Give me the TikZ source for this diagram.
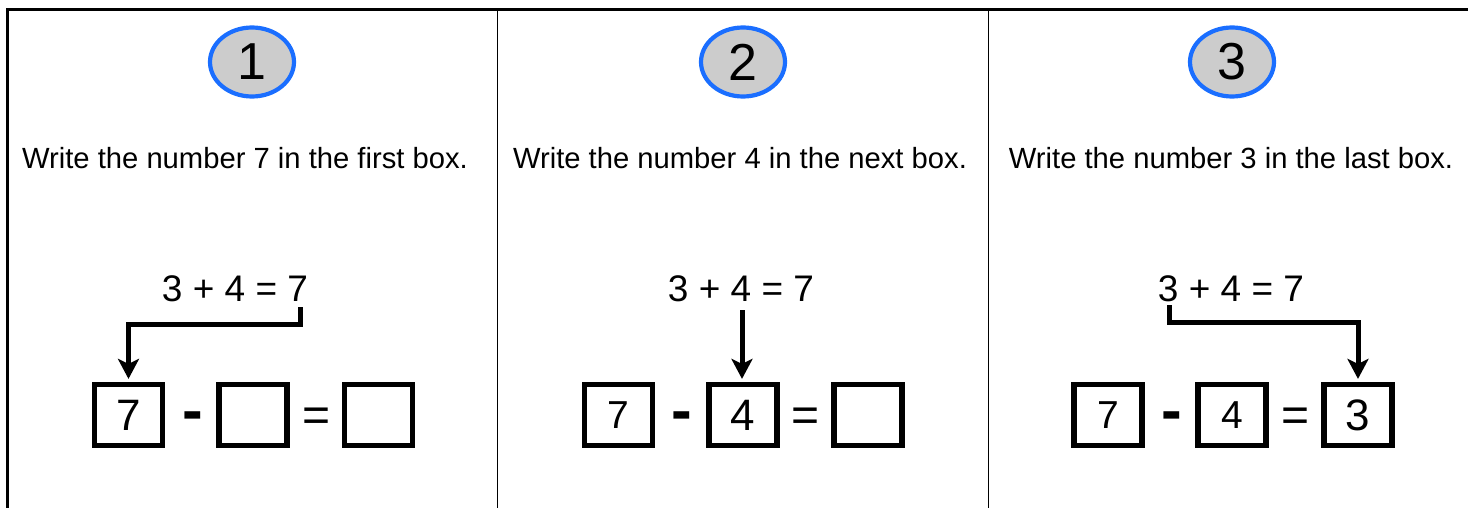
\documentclass[tikz,border=0pt]{standalone}
\usepackage{fontspec}
\setmainfont{Liberation Sans}
\usetikzlibrary{arrows.meta,shapes.geometric}
\definecolor{ringblue}{HTML}{1A6EFF}
\definecolor{ringgray}{HTML}{CCCCCC}
\tikzset{
  stepnum/.style={ellipse, draw=ringblue, fill=ringgray, line width=2.1pt,
    minimum width=42pt, minimum height=34.5pt, inner sep=0pt,
    font=\fontsize{26}{26}\selectfont},
  hinttext/.style={inner sep=0pt, font=\fontsize{14.6}{16}\selectfont},
  sumtext/.style={inner sep=0pt, font=\fontsize{18.5}{20}\selectfont},
  numbox/.style={draw, line width=2.6pt, minimum width=34pt, minimum height=30.5pt,
    inner sep=0pt, font=\fontsize{19.5}{19.5}\selectfont},
  bignum/.style={font=\fontsize{22}{22}\selectfont},
  minussign/.style={anchor=base, inner sep=0pt, font=\bfseries\fontsize{31}{31}\selectfont},
  eqsign/.style={inner sep=0pt, font=\fontsize{24}{24}\selectfont},
  link/.style={line width=2.5pt, -{Stealth[length=10pt,width=10.5pt,inset=2.5pt]}, shorten >=1.5pt}
}
\begin{document}
\begin{tikzpicture}[x=0.5pt,y=-0.5pt]
  \useasboundingbox (0,0) rectangle (1468,508);

  % Marco y separadores
  \draw[line width=1.4pt] (1468,9.5) -- (7.5,9.5) -- (7.5,508);
  \draw[line width=0.75pt] (497.7,9.5) -- (497.7,508);
  \draw[line width=0.75pt] (988.5,9.5) -- (988.5,508);

  % Pasos
  \node[stepnum] (n1) at (252,62) {1};
  \node[stepnum] (n2) at (743,62) {2};
  \node[stepnum] (n3) at (1232,62) {3};

  % Instrucciones
  \node[hinttext] (t1) at (245,158) {Write the number 7 in the first box.};
  \node[hinttext] (t2) at (740,158) {Write the number 4 in the next box.};
  \node[hinttext] (t3) at (1231,158) {Write the number 3 in the last box.};

  % Sumas
  \node[sumtext] (e1) at (235,289) {3 + 4 = 7};
  \node[sumtext] (e2) at (741,289) {3 + 4 = 7};
  \node[sumtext] (e3) at (1231,289) {3 + 4 = 7};

  % Paso 1
  \node[numbox, bignum] (b11) at (128.5,415) {7};
  \node[minussign] (m1) at (192.5,431) {-};
  \node[numbox] (b12) at (253,415) {};
  \node[eqsign] (q1) at (316.5,420) {=};
  \node[numbox] (b13) at (378.5,415) {};

  % Paso 2
  \node[numbox] (b21) at (618.5,415) {7};
  \node[minussign] (m2) at (681.5,431) {-};
  \node[numbox, bignum] (b22) at (743,415) {4};
  \node[eqsign] (q2) at (806,420) {=};
  \node[numbox] (b23) at (868,415) {};

  % Paso 3
  \node[numbox] (b31) at (1108,415) {7};
  \node[minussign] (m3) at (1171.5,431) {-};
  \node[numbox] (b32) at (1232,415) {4};
  \node[eqsign] (q3) at (1295.5,420) {=};
  \node[numbox, bignum] (b33) at (1358,415) {3};

  % Flechas
  \coordinate (s1) at (300,307);
  \coordinate (s2) at (742,310);
  \coordinate (s3) at (1169,305);
  \draw[link] (s1) -- ++(0,17) -| (b11.north);
  \draw[link] (s2) -- (s2 |- b22.north);
  \draw[link] (s3) -- ++(0,17) -| (b33.north);
\end{tikzpicture}
\end{document}
